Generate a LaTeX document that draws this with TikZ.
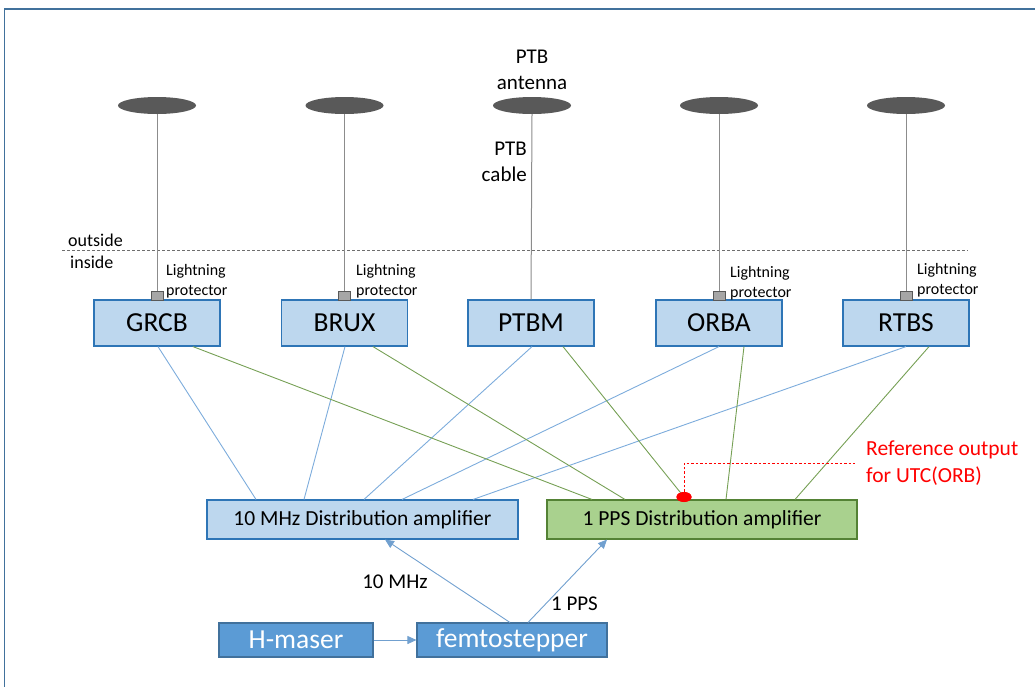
\documentclass[tikz,border=0pt]{standalone}
\usepackage{fontspec}
\setmainfont{Carlito}
\usetikzlibrary{arrows.meta,calc,shapes.geometric}
\definecolor{frameblue}{RGB}{65,113,156}
\definecolor{stfill}{RGB}{189,215,238}
\definecolor{stdraw}{RGB}{46,117,182}
\definecolor{grfill}{RGB}{169,209,142}
\definecolor{grdraw}{RGB}{84,130,53}
\definecolor{mfill}{RGB}{91,155,213}
\definecolor{mdraw}{RGB}{65,113,156}
\definecolor{bline}{RGB}{125,172,220}
\definecolor{gline}{RGB}{118,160,85}
\definecolor{antgray}{RGB}{89,89,89}
\definecolor{protfill}{RGB}{166,166,166}
\definecolor{cablegray}{RGB}{140,140,140}
\definecolor{dashgray}{RGB}{110,110,110}
\begin{document}
\begin{tikzpicture}[x=1pt,y=-1pt,
  station/.style={draw=stdraw, fill=stfill, line width=1.2pt, minimum width=126pt, minimum height=46pt, inner sep=0pt, font=\fontsize{27.5}{32}\selectfont},
  ampblue/.style={draw=stdraw, fill=stfill, line width=1.1pt, minimum width=311pt, minimum height=39pt, inner sep=0pt, font=\fontsize{21.5}{26}\selectfont},
  ampgreen/.style={draw=grdraw, fill=grfill, line width=1.1pt, minimum width=310pt, minimum height=39pt, inner sep=0pt, font=\fontsize{21.5}{26}\selectfont},
  maser/.style={draw=mdraw, fill=mfill, line width=1.1pt, minimum height=34pt, inner sep=0pt, text=white, font=\fontsize{27.5}{32}\selectfont},
  antenna/.style={ellipse, fill=antgray, minimum width=78pt, minimum height=17pt, inner sep=0pt},
  protector/.style={draw=antgray, fill=protfill, minimum width=12pt, minimum height=9pt, inner sep=0pt, line width=0.8pt},
  cable/.style={draw=cablegray, line width=1pt},
  bconn/.style={draw=bline, line width=0.9pt},
  gconn/.style={draw=gline, line width=0.9pt},
  arr/.style={draw=bline, line width=0.9pt, -{Triangle[length=9pt,width=8pt]}, color=bline!80!mdraw},
  prottext/.style={anchor=west, align=left, inner sep=0pt, font=\fontsize{16}{20}\selectfont},
  lbl/.style={inner sep=0pt, font=\fontsize{21}{26}\selectfont},
  reddot/.style={ellipse, fill=red, minimum width=15pt, minimum height=10pt, inner sep=0pt},
  reddash/.style={draw=red, line width=0.8pt, dash pattern=on 2.5pt off 2pt},
  frameline/.style={draw=frameblue, line width=1.5pt}
]
\useasboundingbox (0,0) rectangle (1035,686);
% frame
\coordinate (fa) at (4.5,687);
\coordinate (fb) at (4.5,9);
\coordinate (fc) at (1036,9);
\draw[frameline] (fa) -- (fb) -- (fc);

% outside / inside
\coordinate (dl) at (62,250);
\coordinate (dr) at (968,250);
\draw[draw=dashgray, line width=0.8pt, dash pattern=on 3pt off 2pt] (dl) -- (dr);
\node[lbl, anchor=west, font=\fontsize{18}{22}\selectfont] (outs) at (68,240) {outside};
\node[lbl, anchor=west, font=\fontsize{18}{22}\selectfont] (ins) at (70,262) {inside};

% antennas
\node[antenna] (a1) at (157,105.5) {};
\node[antenna] (a2) at (344.5,105.5) {};
\node[antenna] (a3) at (532,105.5) {};
\node[antenna] (a4) at (719,105.5) {};
\node[antenna] (a5) at (906,105.5) {};

\node[lbl, align=center] (ptbant) at (532,70) {PTB\\antenna};
\node[lbl, align=right, anchor=east] (ptbcab) at (527,161.5) {PTB\\cable};

% stations
\node[station] (grcb) at (157,323) {GRCB};
\node[station] (brux) at (344.5,323) {BRUX};
\node[station] (ptbm) at (531,323) {PTBM};
\node[station] (orba) at (719,323) {ORBA};
\node[station] (rtbs) at (906,323) {RTBS};

% protectors
\node[protector] (p1) at (157,295.5) {};
\node[protector] (p2) at (344.5,295.5) {};
\node[protector] (p4) at (719,295.5) {};
\node[protector] (p5) at (906,295.5) {};

\draw[cable] (a1.south) -- (p1.north);
\draw[cable] (a2.south) -- (p2.north);
\draw[cable] (a3.south) -- (ptbm.north);
\draw[cable] (a4.south) -- (p4.north);
\draw[cable] (a5.south) -- (p5.north);

\node[prottext] (t1) at (166,281) {Lightning\\protector};
\node[prottext] (t2) at (356,281) {Lightning\\protector};
\node[prottext] (t4) at (730,283) {Lightning\\protector};
\node[prottext] (t5) at (917,280) {Lightning\\protector};

% amplifiers
\node[ampblue] (mhz) at (362.5,519.5) {10 MHz Distribution amplifier};
\node[ampgreen] (pps) at (702,519.5) {1 PPS Distribution amplifier};

% red reference dot
\node[reddot] (dot) at (684,497) {};

% connectors: blue
\draw[bconn] ([xshift=1pt]grcb.south) -- ([xshift=-106.5pt]mhz.north);
\draw[bconn] ([xshift=0.5pt]brux.south) -- ([xshift=-58.5pt]mhz.north);
\draw[bconn] ([xshift=1pt]ptbm.south) -- ([xshift=1.5pt]mhz.north);
\draw[bconn] ([xshift=0pt]orba.south) -- ([xshift=39.5pt]mhz.north);
\draw[bconn] ([xshift=0pt]rtbs.south) -- ([xshift=110.5pt]mhz.north);
% connectors: green
\draw[gconn] ([xshift=36pt]grcb.south) -- ([xshift=-110pt]pps.north);
\draw[gconn] ([xshift=28.5pt]brux.south) -- ([xshift=-77pt]pps.north);
\draw[gconn] ([xshift=32pt]ptbm.south) -- (dot.center);
\draw[gconn] ([xshift=25pt]orba.south) -- ([xshift=24pt]pps.north);
\draw[gconn] ([xshift=23pt]rtbs.south) -- ([xshift=93pt]pps.north);

\node[reddot] (dot2) at (dot) {};
\coordinate (refc) at (855,463);
\draw[reddash] (dot.north) |- (refc);
\node[lbl, anchor=west, align=left, text=red, font=\fontsize{21.5}{27}\selectfont] (reftxt) at (866,463.5) {Reference output\\for UTC(ORB)};

% sources
\node[maser, minimum width=154pt] (hm) at (296,640) {H-maser};
\node[maser, minimum width=190pt] (femto) at (512,640) {femtostepper};

\draw[arr] (hm.east) -- (femto.west);
\draw[arr] ([xshift=-2pt]femto.north) -- ([xshift=22.5pt]mhz.south);
\draw[arr] ([xshift=16pt]femto.north) -- ([xshift=-95pt]pps.south);

\node[lbl, font=\fontsize{21}{26}\selectfont] (l10) at (395,582) {10 MHz};
\node[lbl, font=\fontsize{21}{26}\selectfont] (l1) at (574.5,604) {1 PPS};
\end{tikzpicture}
\end{document}
